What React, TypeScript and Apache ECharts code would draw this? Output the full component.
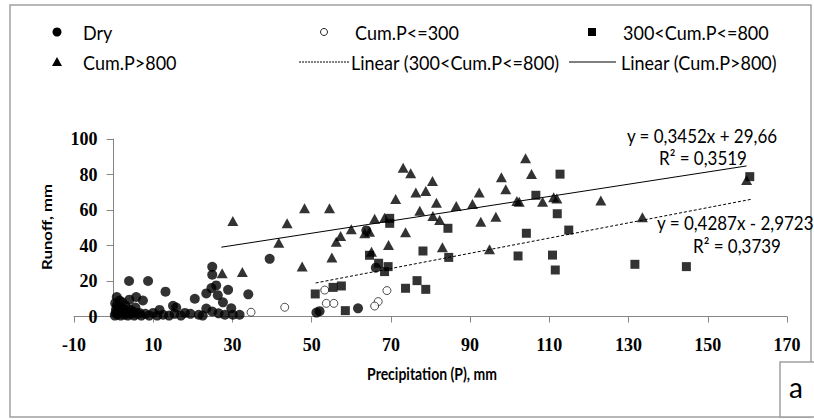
import React, { useEffect, useRef } from "react";
import * as echarts from "echarts";

// ---- data ----
const dryPoints: number[][] = [
  [0.3, 0.5], [0.5, 2], [0.6, 4], [0.8, 6], [0.4, 7.5], [1, 1], [1.2, 3], [1.5, 5], [1.8, 0.5],
  [2, 2.5], [2.2, 8], [2.5, 4], [2.8, 1], [3, 6], [3.3, 2], [3.6, 0.5], [4, 4], [4.3, 1.5],
  [4.8, 3], [5.2, 0.5], [5.5, 5], [6, 1.5], [0.8, 11], [1.5, 9], [3.9, 20], [8.7, 20], [5.7, 11],
  [4, 9.5], [7.4, 9], [6.5, 2], [7, 0.5], [8, 1.5], [9, 0.5], [10, 2], [11, 0.5], [11.6, 3.7],
  [12.5, 1], [13.1, 14], [14, 0.5], [15, 6], [15.8, 5], [15.4, 1.5], [17, 0.5], [18, 2],
  [19.4, 1.5], [20.5, 10], [21.5, 1], [22.5, 0.5], [23.4, 13], [24.7, 16], [25.9, 17.5],
  [24.9, 28], [24.9, 23.5], [26.3, 12], [27.6, 8], [28.9, 15], [23.4, 4.5], [24.9, 2.8],
  [26.5, 1.8], [28.1, 1], [29.7, 4.6], [30.1, 1], [31.8, 1], [34, 12.5], [39.4, 32.5],
  [51.2, 2.2], [52, 3], [61.7, 4.6], [66.2, 27.5], [63.8, 48.5],
];
const cumLe300Points: number[][] = [
  [34.7, 2.4], [43.2, 5.2], [53.3, 14.9], [53.7, 7.4], [55.6, 7.4], [69, 14.6], [66.8, 8.4], [65.9, 5.9],
];
const cum300to800Points: number[][] = [
  [50.9, 12.7], [55.4, 16.4], [57.5, 17.2], [58.5, 3.3], [64.6, 34.5], [66.9, 30], [68.4, 25.3],
  [69.3, 28.1], [69.7, 55.3], [69.7, 52.5], [73.7, 15.9], [76.6, 20.2], [78.8, 15.3], [78.1, 36.9],
  [84.4, 49.7], [84.6, 33.3], [102.1, 34.1], [104.2, 46.9], [106.6, 68.3], [110.8, 34.6],
  [111.5, 26.2], [112, 57.9], [112.7, 80.2], [114.9, 48.7], [131.6, 29.4], [144.6, 28.1], [160.6, 78.8],
];
const cumGt800Points: number[][] = [
  [30.1, 53.8], [27.4, 24.3], [32.5, 25.1], [41.7, 41.6], [43.8, 52.5], [48.2, 61], [47.6, 28.1],
  [54.5, 61], [55.1, 33.3], [56.2, 42.1], [57.3, 45.4], [60, 49.1], [63.4, 46.9], [64.6, 47.8],
  [65.1, 36.5], [65.9, 55.1], [68.4, 55.7], [69.4, 40.3], [71.2, 66.2], [73.7, 47.4], [73.1, 83.8],
  [75, 80.7], [76.3, 69.8], [77.3, 59.6], [78.8, 70.7], [80.5, 76.3], [80.6, 56.6], [81.5, 64.1],
  [82.3, 54.4], [83, 39], [86.5, 62.3], [90.6, 63.4], [92.3, 69.8], [92.7, 53.4], [94.9, 37.9],
  [96.5, 56.2], [97.9, 78.4], [99, 71.7], [101.8, 65.1], [102.4, 64.7], [104, 89.1], [105.5, 80.3],
  [108.3, 64.7], [111.1, 67.2], [111.9, 66.5], [123, 65.3], [133.5, 55.9], [159.8, 76.9],
];
const trend300to800: number[][] = [[51, 18.89], [161, 66.05]];
const trendGt800: number[][] = [[27.2, 39.05], [159.8, 84.82]];

const seriesNames = ["Dry", "Cum.P<=300", "300<Cum.P<=800", "Cum.P>800"];
const trendNames = ["Linear (300<Cum.P<=800)", "Linear (Cum.P>800)"];
const equations = ["y = 0,3452x + 29,66", "R² = 0,3519", "y = 0,4287x - 2,9723", "R² = 0,3739"];
const xTitle = "Precipitation (P), mm";
const yTitle = "Runoff, mm";
const panelLabel = "a";

const SANS = "Lato, 'Open Sans', sans-serif";
const SERIF = "'Liberation Serif', 'DejaVu Serif', serif";
const AXIS_GRAY = "#868686";
const FRAME_GRAY = "#a0a0a0";

export default function App() {
  const ref = useRef<HTMLDivElement>(null);
  useEffect(() => {
    if (!ref.current) return;
    const chart = echarts.init(ref.current, undefined, { renderer: "svg" });
    const legendText = (x: number, y: number, t: string) => ({
      type: "text", x, y, scaleY: 1.12,
      style: { text: t, font: `18px ${SANS}`, fill: "#000", align: "left", verticalAlign: "middle" },
    });
    const eqText = (x: number, y: number, t: string, align: string) => ({
      type: "text", x, y, scaleY: 1.15,
      style: { text: t, font: `17px ${SANS}`, fill: "#000", align, verticalAlign: "middle" },
    });
    chart.setOption({
      animation: false,
      backgroundColor: "#fff",
      grid: { left: 74, right: 27, top: 139, bottom: 102.5, containLabel: false },
      xAxis: {
        type: "value", min: -10, max: 170, interval: 20,
        splitLine: { show: false },
        axisLine: { show: true, onZero: true, lineStyle: { color: AXIS_GRAY, width: 1 } },
        axisTick: { show: true, length: 6, lineStyle: { color: AXIS_GRAY } },
        axisLabel: { margin: 19, color: "#000", fontFamily: SERIF, fontWeight: "bold", fontSize: 18 },
      },
      yAxis: {
        type: "value", min: 0, max: 100, interval: 20,
        offset: -39.6,
        splitLine: { show: false },
        axisLine: { show: true, onZero: false, lineStyle: { color: AXIS_GRAY, width: 1 } },
        axisTick: { show: true, length: 7, lineStyle: { color: AXIS_GRAY } },
        axisLabel: { margin: 16, color: "#000", fontFamily: SERIF, fontWeight: "bold", fontSize: 18 },
      },
      series: [
        { name: seriesNames[0], type: "scatter", data: dryPoints, symbol: "circle", symbolSize: 10,
          itemStyle: { color: "#000" } },
        { name: seriesNames[1], type: "scatter", data: cumLe300Points, symbol: "circle", symbolSize: 8,
          itemStyle: { color: "#fff", borderColor: "#222", borderWidth: 1 } },
        { name: seriesNames[2], type: "scatter", data: cum300to800Points, symbol: "rect", symbolSize: 9,
          itemStyle: { color: "#000" } },
        { name: seriesNames[3], type: "scatter", data: cumGt800Points, symbol: "triangle", symbolSize: [11, 10],
          itemStyle: { color: "#000" } },
        { name: trendNames[0], type: "line", data: trend300to800, symbol: "none", z: 3,
          lineStyle: { color: "#000", width: 1, type: [3, 2] } },
        { name: trendNames[1], type: "line", data: trendGt800, symbol: "none", z: 3,
          lineStyle: { color: "#000", width: 1 } },
      ],
      graphic: [
        { type: "rect", shape: { x: 10, y: 5, width: 801, height: 412 }, style: { fill: "none", stroke: FRAME_GRAY, lineWidth: 1.5 }, z: -1 },
        // legend
        { type: "circle", shape: { cx: 57, cy: 32, r: 4.5 }, style: { fill: "#000" } },
        legendText(83, 32, seriesNames[0]),
        { type: "circle", shape: { cx: 324, cy: 32, r: 3.5 }, style: { fill: "#fff", stroke: "#222", lineWidth: 1 } },
        legendText(355, 32, seriesNames[1]),
        { type: "rect", shape: { x: 588, y: 28, width: 8, height: 8 }, style: { fill: "#000" } },
        legendText(623, 32, seriesNames[2]),
        { type: "polygon", shape: { points: [[52, 66], [62, 66], [57, 57]] }, style: { fill: "#000" } },
        legendText(83, 62, seriesNames[3]),
        { type: "line", shape: { x1: 299, y1: 62, x2: 349, y2: 62 }, style: { stroke: "#000", lineWidth: 1, lineDash: [2, 1] } },
        legendText(351, 62, trendNames[0]),
        { type: "line", shape: { x1: 569, y1: 62, x2: 616, y2: 62 }, style: { stroke: "#000", lineWidth: 1 } },
        legendText(621, 62, trendNames[1]),
        // equations
        eqText(702, 136, equations[0], "center"),
        eqText(703, 158, equations[1], "center"),
        eqText(657, 223, equations[2], "left"),
        eqText(737, 246, equations[3], "center"),
        // axis titles
        { type: "text", x: 432, y: 373, scaleY: 1.2,
          style: { text: xTitle, font: `bold 14px ${SANS}`, fill: "#000", align: "center", verticalAlign: "middle" } },
        { type: "text", x: 47, y: 227, rotation: Math.PI / 2, scaleX: 1.2,
          style: { text: yTitle, font: `bold 14px ${SANS}`, fill: "#000", align: "center", verticalAlign: "middle" } },
        // panel label box
        { type: "rect", shape: { x: 780, y: 362, width: 40, height: 55 }, style: { fill: "#fff", stroke: FRAME_GRAY, lineWidth: 1.5 } },
        { type: "text", x: 796, y: 387, style: { text: panelLabel, font: `28px ${SANS}`, fill: "#000", align: "center", verticalAlign: "middle" } },
      ],
    });
    return () => chart.dispose();
  }, []);
  return (
    <div
      ref={ref}
      style={{ position: "absolute", left: 0, top: 0, width: 814, height: 419, background: "#fff" }}
    />
  );
}
